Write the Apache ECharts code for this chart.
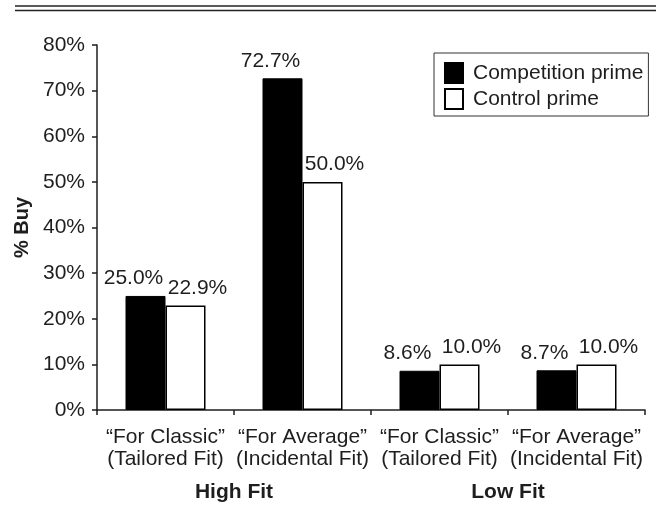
<!DOCTYPE html>
<html>
<head>
<meta charset="utf-8">
<script src="https://cdn.jsdelivr.net/npm/echarts@6/dist/echarts.min.js"></script>
<style>
  html, body { margin: 0; padding: 0; background: #ffffff; }
  #chart { width: 656px; height: 506px; }
</style>
</head>
<body>
<div id="chart"></div>
<script>
// Purchase rates by ad slogan and prime condition
const categories = [
  '\u201CFor Classic\u201D\n(Tailored Fit)',
  '\u201CFor Average\u201D\n(Incidental Fit)',
  '\u201CFor Classic\u201D\n(Tailored Fit)',
  '\u201CFor Average\u201D\n(Incidental Fit)'
];
const groups = ['High Fit', 'Low Fit'];
const competitionPrime = [25.0, 72.7, 8.6, 8.7];
const controlPrime = [22.9, 50.0, 10.0, 10.0];
const seriesNames = ['Competition prime', 'Control prime'];
const yTicks = { min: 0, max: 80, interval: 10 };

const FONT = '"Liberation Sans", Arial, Helvetica, sans-serif';
const INK = '#1e1e1e';

const chart = echarts.init(document.getElementById('chart'), null, { renderer: 'canvas' });

const valueLabel = (dx) => ({
  show: true,
  position: 'top',
  distance: 7,
  offset: [dx, 0],
  fontFamily: FONT,
  fontSize: 21,
  color: INK,
  formatter: (p) => p.value.toFixed(1) + '%'
});

chart.setOption({
  animation: false,
  backgroundColor: '#ffffff',
  textStyle: { fontFamily: FONT },
  grid: { left: 97, right: 11, top: 45, bottom: 96 },
  legend: {
    data: seriesNames,
    orient: 'vertical',
    left: 434,
    top: 53,
    padding: [9, 5, 6, 10],
    itemGap: 4,
    itemWidth: 18,
    itemHeight: 20,
    icon: 'rect',
    borderColor: '#333',
    borderWidth: 1,
    backgroundColor: '#ffffff',
    textStyle: { fontFamily: FONT, fontSize: 21, color: INK, lineHeight: 20, height: 20, padding: [0, 0, 0, 5] }
  },
  xAxis: [
    {
      type: 'category',
      data: categories,
      position: 'bottom',
      axisLine: { lineStyle: { color: INK, width: 1.5 } },
      axisTick: { show: true, length: 5, lineStyle: { color: INK, width: 1.5 } },
      axisLabel: {
        interval: 0,
        margin: 16,
        fontFamily: FONT,
        fontSize: 21,
        lineHeight: 22,
        color: INK
      }
    },
    {
      type: 'category',
      data: groups,
      position: 'bottom',
      axisLine: { show: false },
      axisTick: { show: false },
      axisLabel: {
        interval: 0,
        margin: 72,
        fontFamily: FONT,
        fontSize: 21,
        fontWeight: 'bold',
        color: INK
      }
    }
  ],
  yAxis: {
    type: 'value',
    min: yTicks.min,
    max: yTicks.max,
    interval: yTicks.interval,
    name: '% Buy',
    nameLocation: 'middle',
    nameGap: 64,
    nameRotate: 90,
    nameTextStyle: { fontFamily: FONT, fontSize: 20, fontWeight: 'bold', color: INK },
    axisLine: { show: true, lineStyle: { color: INK, width: 1.5 } },
    axisTick: { show: true, length: 5, lineStyle: { color: INK, width: 1.5 } },
    splitLine: { show: false },
    axisLabel: {
      margin: 12,
      fontFamily: FONT,
      fontSize: 21,
      color: INK,
      formatter: (v) => v + '%'
    }
  },
  series: [
    {
      name: seriesNames[0],
      type: 'bar',
      data: competitionPrime,
      barWidth: 40,
      barGap: '0%',
      itemStyle: { color: '#000000', borderColor: '#000000', borderWidth: 1 },
      label: valueLabel(-12)
    },
    {
      name: seriesNames[1],
      type: 'bar',
      data: controlPrime,
      barWidth: 40,
      barGap: '0%',
      itemStyle: { color: '#ffffff', borderColor: '#000000', borderWidth: 1.5 },
      label: valueLabel(12)
    }
  ],
  graphic: [
    // double rule across the top of the figure
    { type: 'line', shape: { x1: 15, y1: 6, x2: 656, y2: 6 }, style: { stroke: '#222', lineWidth: 1.5 } },
    { type: 'line', shape: { x1: 15, y1: 10.5, x2: 656, y2: 10.5 }, style: { stroke: '#222', lineWidth: 1.5 } }
  ]
});
</script>
</body>
</html>
